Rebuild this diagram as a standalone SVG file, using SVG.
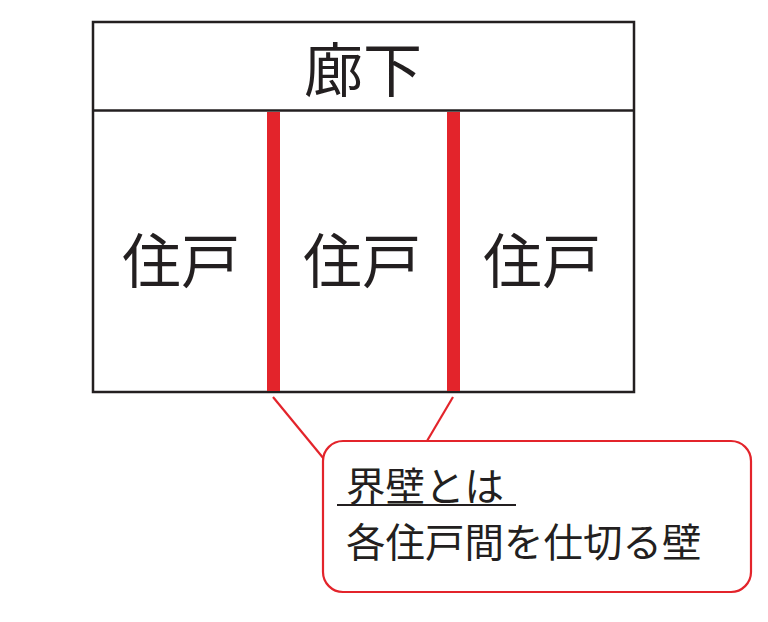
<svg xmlns="http://www.w3.org/2000/svg" width="768" height="622" viewBox="0 0 768 622">
<style>
.frame{fill:none;stroke:#231f20;stroke-width:2.5}
.wall{fill:#e3242b}
.lead{stroke:#e3242b;stroke-width:2.2;fill:none}
.big{font-family:"Noto Sans CJK JP","Noto Sans CJK SC",sans-serif;font-size:59px;fill:#231f20;text-anchor:middle}
.note{font-family:"Noto Sans CJK JP","Noto Sans CJK SC",sans-serif;font-size:39.5px;fill:#231f20}
</style>
<rect width="768" height="622" fill="#fff"/>
<g id="building">
<rect class="frame" x="93" y="22" width="541" height="370"/>
<line class="frame" x1="93" y1="110.5" x2="634" y2="110.5"/>
</g>
<g id="corridor"><text class="big" x="363" y="92">廊下</text></g>
<g id="unit1"><text class="big" x="181" y="283">住戸</text></g>
<g id="unit2"><text class="big" x="362" y="283">住戸</text></g>
<g id="unit3"><text class="big" x="542" y="283">住戸</text></g>
<g id="walls">
<rect class="wall" x="267" y="112" width="13" height="279"/>
<rect class="wall" x="447" y="112" width="13" height="279"/>
</g>
<g id="connectors">
<line class="lead" x1="273" y1="397" x2="324" y2="459"/>
<line class="lead" x1="453" y1="397" x2="427" y2="441"/>
</g>
<g id="callout">
<rect x="323" y="441" width="428" height="151" rx="20" ry="20" fill="#fff" stroke="#e3242b" stroke-width="2.2"/>
<text class="note" x="346" y="501">界壁とは</text>
<line x1="337" y1="505" x2="516" y2="505" stroke="#231f20" stroke-width="2"/>
<text class="note" x="346" y="557">各住戸間を仕切る壁</text>
</g>
</svg>
